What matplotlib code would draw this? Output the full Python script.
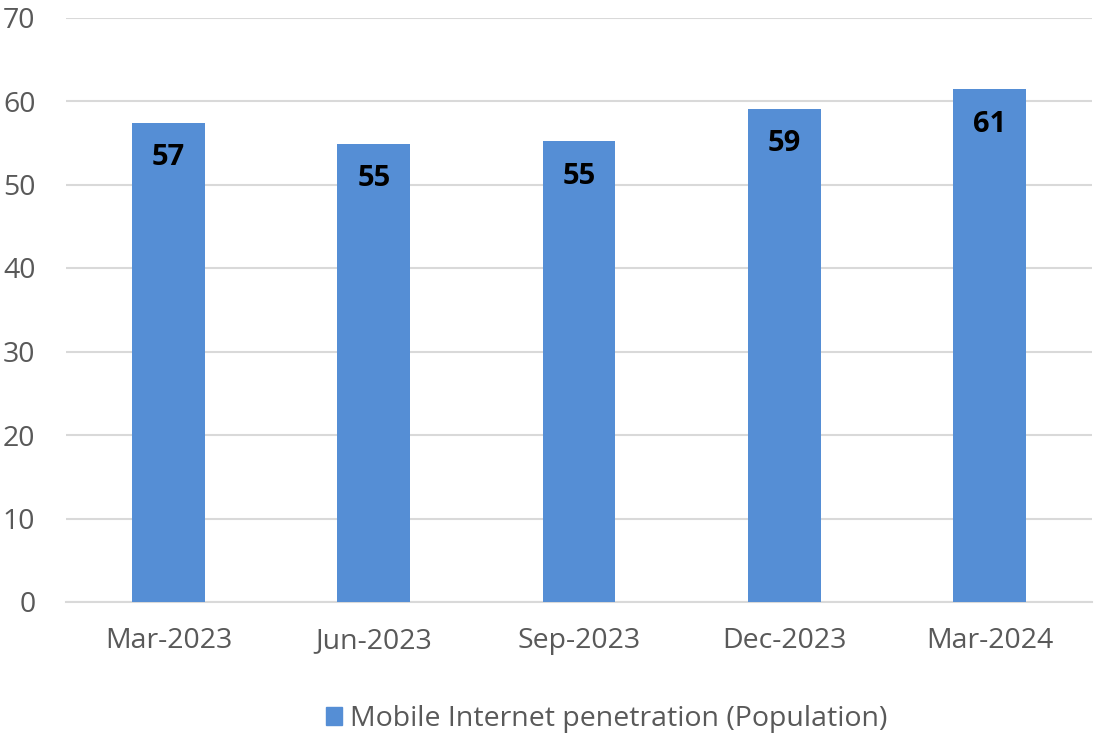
import matplotlib.pyplot as plt
import matplotlib.patches as mpatches

plt.rcParams['font.family'] = ['Open Sans', 'DejaVu Sans']

quarters = ['Mar-2023', 'Jun-2023', 'Sep-2023', 'Dec-2023', 'Mar-2024']
penetration = [57.4, 54.9, 55.2, 59.1, 61.4]
yticks = [0, 10, 20, 30, 40, 50, 60, 70]
series_name = 'Mobile Internet penetration (Population)'

bar_color = '#558ED5'
tick_color = '#595959'
grid_color = '#D9D9D9'

fig = plt.figure(figsize=(10.96, 7.36), dpi=100)
ax = fig.add_axes([66 / 1096, 134 / 736, 1026 / 1096, 584.5 / 736])

x = range(len(quarters))
bars = ax.bar(x, penetration, width=0.355, color=bar_color, zorder=3)

# value labels inside the top of each bar
for b, v in zip(bars, penetration):
    ax.annotate(f'{v:.0f}', (b.get_x() + b.get_width() / 2, v),
                xytext=(0, -35), textcoords='offset pixels',
                ha='center', va='center', fontsize=21, fontweight='bold', color='black')

ax.set_xlim(-0.5, len(quarters) - 0.5)
ax.set_ylim(0, 70)
ax.set_yticks(yticks)
ax.set_xticks(list(x))
ax.set_xticklabels(quarters)
ax.tick_params(axis='both', length=0, labelsize=20.5, colors=tick_color)
ax.tick_params(axis='x', pad=18)
ax.tick_params(axis='y', pad=22)

ax.grid(axis='y', color=grid_color, linewidth=1.5, zorder=0)
for s in ['top', 'right', 'left']:
    ax.spines[s].set_visible(False)
ax.spines['bottom'].set_color(grid_color)
ax.spines['bottom'].set_linewidth(1.5)

handle = mpatches.Patch(color=bar_color, label=series_name)
fig.legend(handles=[handle], loc='center', bbox_to_anchor=(607 / 1096, 1 - 719 / 736),
           frameon=False, fontsize=20.5, handlelength=0.55, handleheight=0.55,
           handletextpad=0.3, labelcolor=tick_color)

fig.savefig('out.png', dpi=100)
